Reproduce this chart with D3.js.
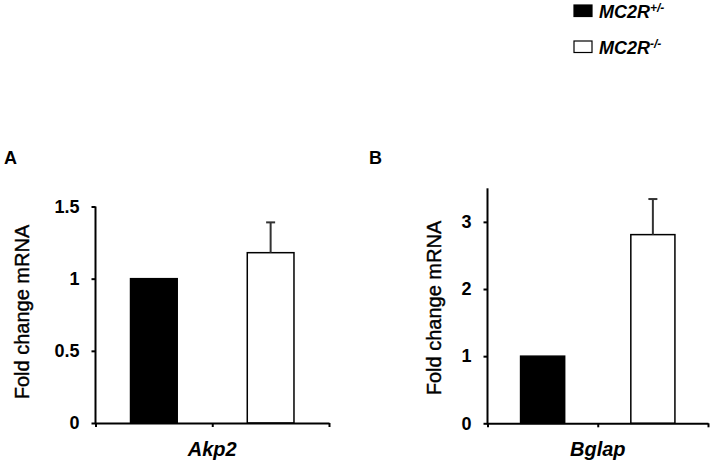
<!DOCTYPE html>
<html><head><meta charset="utf-8">
<script src="https://cdn.jsdelivr.net/npm/d3@7/dist/d3.min.js"></script>
<style>body{margin:0;background:#fff}svg{display:block}</style>
</head><body>
<script>
const genotypes = ["MC2R+/-", "MC2R-/-"];
const genes = ["Akp2", "Bglap"];
const akp2Values = [1.0, 1.18];
const akp2Errors = [0, 0.21];
const bglapValues = [1.0, 2.81];
const bglapErrors = [0, 0.53];
const akp2Ticks = [0, 0.5, 1, 1.5];
const bglapTicks = [0, 1, 2, 3];
const panelLetters = ["A", "B"];

const W = 711, H = 465;
const svg = d3.select("body").append("svg").attr("width", W).attr("height", H);
const FONT = "Liberation Sans, Arial, sans-serif";
const fills = ["#000", "#fff"];

const panels = [
  {gene: genes[0], vals: akp2Values, errs: akp2Errors, ticks: akp2Ticks, domain: [0, 1.5],
   x0: 95.5, x1: 329, y0: 423, y1: 206.5, tickFmt: d => d === 0 ? "0" : (d % 1 ? d3.format(".1f")(d) : String(d)),
   labelGap: 16, ylabX: 22, ylabY: 312, letter: panelLetters[0], letterX: 4},
  {gene: genes[1], vals: bglapValues, errs: bglapErrors, ticks: bglapTicks, domain: [0, 3.5],
   x0: 487.5, x1: 708, y0: 423.3, y1: 188.3, tickFmt: d => String(d),
   labelGap: 16, ylabX: 434, ylabY: 308, letter: panelLetters[1], letterX: 369}
];

panels.forEach(p => {
  const g = svg.append("g");
  const x = d3.scaleBand().domain(genotypes).range([p.x0, p.x1]).paddingInner(0.6).paddingOuter(0.3);
  const y = d3.scaleLinear().domain(p.domain).range([p.y0, p.y1]);

  g.selectAll("rect.bar").data(genotypes).join("rect")
    .attr("x", d => x(d)).attr("width", x.bandwidth())
    .attr("y", (d, i) => y(p.vals[i])).attr("height", (d, i) => y(0) - y(p.vals[i]))
    .attr("fill", (d, i) => fills[i]).attr("stroke", "#000").attr("stroke-width", 1.5);

  genotypes.forEach((d, i) => {
    if (!p.errs[i]) return;
    const cx = x(d) + x.bandwidth() / 2;
    g.append("line").attr("x1", cx).attr("x2", cx)
      .attr("y1", y(p.vals[i])).attr("y2", y(p.vals[i] + p.errs[i]))
      .attr("stroke", "#333").attr("stroke-width", 2);
    g.append("line").attr("x1", cx - 4.5).attr("x2", cx + 4.5)
      .attr("y1", y(p.vals[i] + p.errs[i])).attr("y2", y(p.vals[i] + p.errs[i]))
      .attr("stroke", "#333").attr("stroke-width", 2);
  });

  const ya = g.append("g").attr("transform", `translate(${p.x0},0)`)
    .call(d3.axisLeft(y).tickValues(p.ticks).tickSize(4).tickSizeOuter(0).tickFormat(p.tickFmt));
  ya.select(".domain").attr("stroke-width", 2).attr("d", `M0,${p.y0 + 1}V${p.y1}`);
  ya.selectAll(".tick line").attr("stroke-width", 2);
  ya.selectAll(".tick text").attr("x", -p.labelGap).attr("font-family", FONT)
    .attr("font-size", 18).attr("font-weight", "bold").attr("fill", "#000");

  const xTickScale = d3.scaleLinear().domain([0, 2]).range([p.x0, p.x1]);
  const xa = g.append("g").attr("transform", `translate(0,${p.y0})`)
    .call(d3.axisBottom(xTickScale).tickValues([0, 1, 2]).tickSize(4).tickSizeOuter(0).tickFormat(""));
  xa.select(".domain").attr("stroke-width", 2);
  xa.selectAll(".tick line").attr("stroke-width", 2);

  g.append("text").attr("x", (p.x0 + p.x1) / 2).attr("y", 456).attr("text-anchor", "middle")
    .attr("font-family", FONT).attr("font-size", 20).attr("font-weight", "bold").attr("font-style", "italic")
    .text(p.gene);

  g.append("text").attr("transform", `translate(${p.ylabX + 7},${p.ylabY}) rotate(-90)`)
    .attr("text-anchor", "middle").attr("font-family", FONT).attr("font-size", 20)
    .attr("stroke", "#000").attr("stroke-width", 0.4)
    .text("Fold change mRNA");

  g.append("text").attr("x", p.letterX).attr("y", 164).attr("font-family", FONT)
    .attr("font-size", 18).attr("font-weight", "bold").text(p.letter);
});

const legend = svg.append("g");
genotypes.forEach((d, i) => {
  const yy = 5 + i * 36;
  legend.append("rect").attr("x", 574).attr("y", yy).attr("width", 18).attr("height", 11.5)
    .attr("fill", fills[i]).attr("stroke", "#000").attr("stroke-width", 1.2);
  const t = legend.append("text").attr("x", 599).attr("y", yy + 12.5).attr("font-family", FONT)
    .attr("font-size", 18).attr("font-weight", "bold").attr("font-style", "italic");
  t.append("tspan").text(d.slice(0, 4));
  t.append("tspan").attr("dy", -6).attr("font-size", 12).text(d.slice(4));
});
</script>
</body></html>
